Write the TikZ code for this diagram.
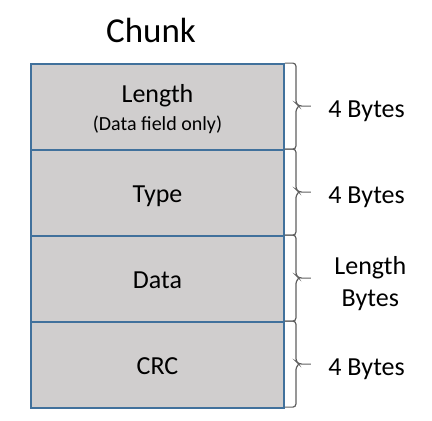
\documentclass[tikz,border=0pt]{standalone}
\usepackage{fontspec}
\setmainfont{Carlito}
\definecolor{fieldgray}{RGB}{208,206,206}
\definecolor{fieldblue}{RGB}{65,113,156}
\definecolor{bracegray}{RGB}{95,95,95}

\begin{document}
\begin{tikzpicture}[x=1pt,y=-1pt,
  field/.style={rectangle,draw=fieldblue,fill=fieldgray,line width=1.8pt,minimum width=253pt,minimum height=86pt,font=\fontsize{26}{30}\selectfont,align=center,text height=19pt,text depth=1pt},
  size label/.style={anchor=west,font=\fontsize{26}{32}\selectfont,align=center,yshift=-5pt},
  brace line/.style={draw=bracegray,line width=1.2pt,rounded corners=3pt}]
  \useasboundingbox (0,0) rectangle (432,421);

  \node[font=\fontsize{35}{40}\selectfont] (title) at (151,30){Chunk};

  \node[field,text height=,text depth=-3pt] (len) at (157.5,107){Length\\[-2pt]{\fontsize{20}{24}\selectfont (Data field only)}};
  \node[field] (type) at (157.5,193){Type};
  \node[field] (data) at (157.5,279){Data};
  \node[field] (crc) at (157.5,365){CRC};

  % braces and sizes
  \foreach \f/\t/\dx in {len/4 Bytes/14, type/4 Bytes/14, data/{Length\\Bytes}/20, crc/4 Bytes/14}{
    \draw[brace line] (\f.north east) -- ++(11,0) -- ++(0,40) -- ++(3,3) -- ++(12,0) coordinate (\f tip)
      ++(-12,0) -- ++(-3,3) -- ++(0,40) -- ++(-11,0);
    \node[size label] (\f size) at ([xshift=\dx pt]\f tip){\t};
  }
\end{tikzpicture}
\end{document}
